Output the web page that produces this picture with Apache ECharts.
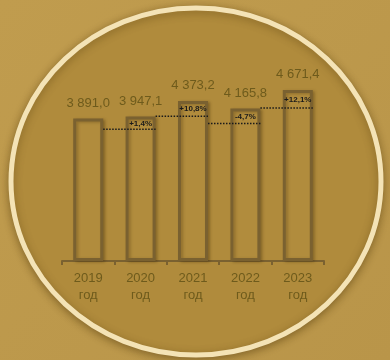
<!DOCTYPE html>
<html><head><meta charset="utf-8">
<style>html,body{margin:0;padding:0;background:#bd994b;}#c{width:390px;height:360px;}</style>
<script src="https://cdn.jsdelivr.net/npm/echarts@6/dist/echarts.min.js"></script>
</head><body><div id="c"></div>
<script>
var categories = ['2019\nгод', '2020\nгод', '2021\nгод', '2022\nгод', '2023\nгод'];
var values = [3891.0, 3947.1, 4373.2, 4165.8, 4671.4];
var changeLabels = ['', '+1,4%', '+10,8%', '-4,7%', '+12,1%'];
var dotLevels = [null, 3600, 3955, 3755, 4180];

var BROWN = '#7a6130';
var TEXT = '#6e5b1c';
var FONT = 'Liberation Sans, Arial, sans-serif';
var BAR_W = 30;

function fmt(v) {
  var s = v.toFixed(1).split('.');
  var i = s[0].replace(/\B(?=(\d{3})+(?!\d))/g, ' ');
  return i + ',' + s[1];
}

var chart = echarts.init(document.getElementById('c'), null, {renderer: 'canvas'});
chart.setOption({
  backgroundColor: {
    type: 'linear', x: 0, y: 0, x2: 1, y2: 1,
    colorStops: [{offset: 0, color: '#c09c4e'}, {offset: 1, color: '#b99549'}]
  },
  animation: false,
  graphic: [{
    type: 'ellipse',
    z: -10,
    shape: {cx: 196, cy: 181.5, rx: 185, ry: 173.5},
    style: {fill: '#b08b3c', stroke: '#f4e3b6', lineWidth: 5,
            shadowBlur: 8, shadowColor: 'rgba(80,55,10,0.45)', shadowOffsetY: 2}
  }],
  grid: {left: 62, right: 66, top: 78, bottom: 99},
  xAxis: {
    type: 'category',
    data: categories,
    boundaryGap: true,
    axisLine: {lineStyle: {color: BROWN, width: 2}},
    axisTick: {show: true, length: 4, lineStyle: {color: BROWN, width: 2}},
    axisLabel: {color: TEXT, fontSize: 13, lineHeight: 17, margin: 9, fontFamily: FONT}
  },
  yAxis: {
    type: 'value', min: 0, max: 5000, interval: 1000,
    show: false, splitLine: {show: false}
  },
  series: [{
    type: 'bar',
    data: values,
    barWidth: BAR_W,
    itemStyle: {
      color: '#b18c3d', borderColor: BROWN, borderWidth: 3,
      shadowBlur: 3, shadowColor: 'rgba(60,40,5,0.3)', shadowOffsetX: 2, shadowOffsetY: 1
    },
    label: {
      show: true, position: 'top', distance: 9,
      color: TEXT, fontSize: 13, fontFamily: FONT,
      textShadowBlur: 0, textBorderWidth: 0, opacity: 1,
      formatter: function (p) { return fmt(p.value); }
    },
    z: 2
  }, {
    type: 'custom',
    z: 5,
    data: values.map(function (v, i) { return [i, v, dotLevels[i]]; }),
    renderItem: function (params, api) {
      var i = api.value(0);
      if (i < 1) return null;
      var half = BAR_W / 2;
      var prev = api.coord([i - 1, values[i - 1]]);
      var cur = api.coord([i, api.value(1)]);
      var lineY = api.coord([i, api.value(2)])[1];
      var x1 = prev[0] + half;
      var x2 = cur[0] + half;
      return {
        type: 'group',
        children: [{
          type: 'line',
          shape: {x1: x1, y1: lineY, x2: x2, y2: lineY},
          style: {stroke: '#1a1a1a', lineWidth: 1.5, lineDash: [1.5, 1.5]}
        }, {
          type: 'text',
          style: {
            text: changeLabels[i], x: cur[0], y: (cur[1] + lineY) / 2 + 0.5,
            align: 'center', verticalAlign: 'middle',
            fill: '#1a1a1a', font: 'bold 8px ' + FONT
          }
        }]
      };
    }
  }]
});
</script></body></html>
